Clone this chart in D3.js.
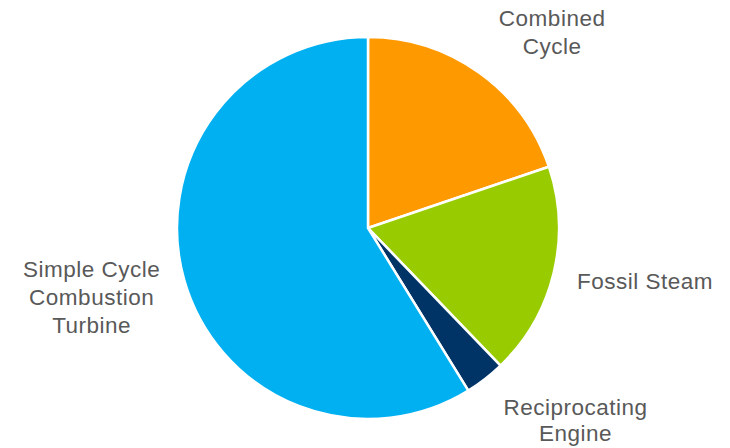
<!DOCTYPE html>
<html>
<head>
<meta charset="utf-8">
<script src="https://cdn.jsdelivr.net/npm/d3@7"></script>
<style>
  html, body { margin: 0; padding: 0; background: #ffffff; }
  svg { display: block; }
</style>
</head>
<body>
<svg id="chart" width="730" height="448"></svg>
<script>
// Data
const categories = ["Combined Cycle", "Fossil Steam", "Reciprocating Engine", "Simple Cycle Combustion Turbine"];
const values = [19.8, 18.0, 3.4, 58.8];
const labelLines = [["Combined", "Cycle"], ["Fossil Steam"], ["Reciprocating", "Engine"], ["Simple Cycle", "Combustion", "Turbine"]];
const colors = ["#FF9900", "#99CC00", "#003366", "#00B0F0"];

// Layout
const W = 730, H = 448;
const cx = 368, cy = 228, R = 191;
const labelR = 280;
const labelOffsets = [[21, 32], [5, -13], [36, -29], [-7, -7]];
const lineHs = [28, 28, 26, 28];
const fontSize = 22.5;

const svg = d3.select("#chart");
const g = svg.append("g").attr("transform", `translate(${cx},${cy})`);

const data = categories.map((c, i) => ({ name: c, value: values[i], lines: labelLines[i], color: colors[i], off: labelOffsets[i], lh: lineHs[i] }));

const pie = d3.pie().sort(null).value(d => d.value);
const arcs = pie(data);

const arc = d3.arc().innerRadius(0).outerRadius(R);
const labelArc = d3.arc().innerRadius(labelR).outerRadius(labelR);

g.selectAll("path.slice")
  .data(arcs)
  .enter().append("path")
  .attr("class", "slice")
  .attr("d", arc)
  .attr("fill", d => d.data.color)
  .attr("stroke", "#ffffff")
  .attr("stroke-width", 2.5)
  .attr("stroke-linejoin", "round");

g.selectAll("text.label")
  .data(arcs)
  .enter().append("text")
  .attr("class", "label")
  .attr("text-anchor", "middle")
  .attr("font-family", "'Liberation Sans', Arial, sans-serif")
  .attr("font-size", fontSize)
  .attr("letter-spacing", "0.5px")
  .attr("fill", "#595959")
  .each(function(d) {
    const [x0, y0] = labelArc.centroid(d);
    const x = x0 + d.data.off[0];
    const yc = y0 + d.data.off[1];
    const n = d.data.lines.length;
    const lh = d.data.lh;
    const firstBaseline = yc - (n - 1) * lh / 2 + 8;
    const t = d3.select(this);
    d.data.lines.forEach((ln, i) => {
      t.append("tspan")
        .attr("x", x)
        .attr("y", firstBaseline + i * lh)
        .text(ln);
    });
  });
</script>
</body>
</html>
